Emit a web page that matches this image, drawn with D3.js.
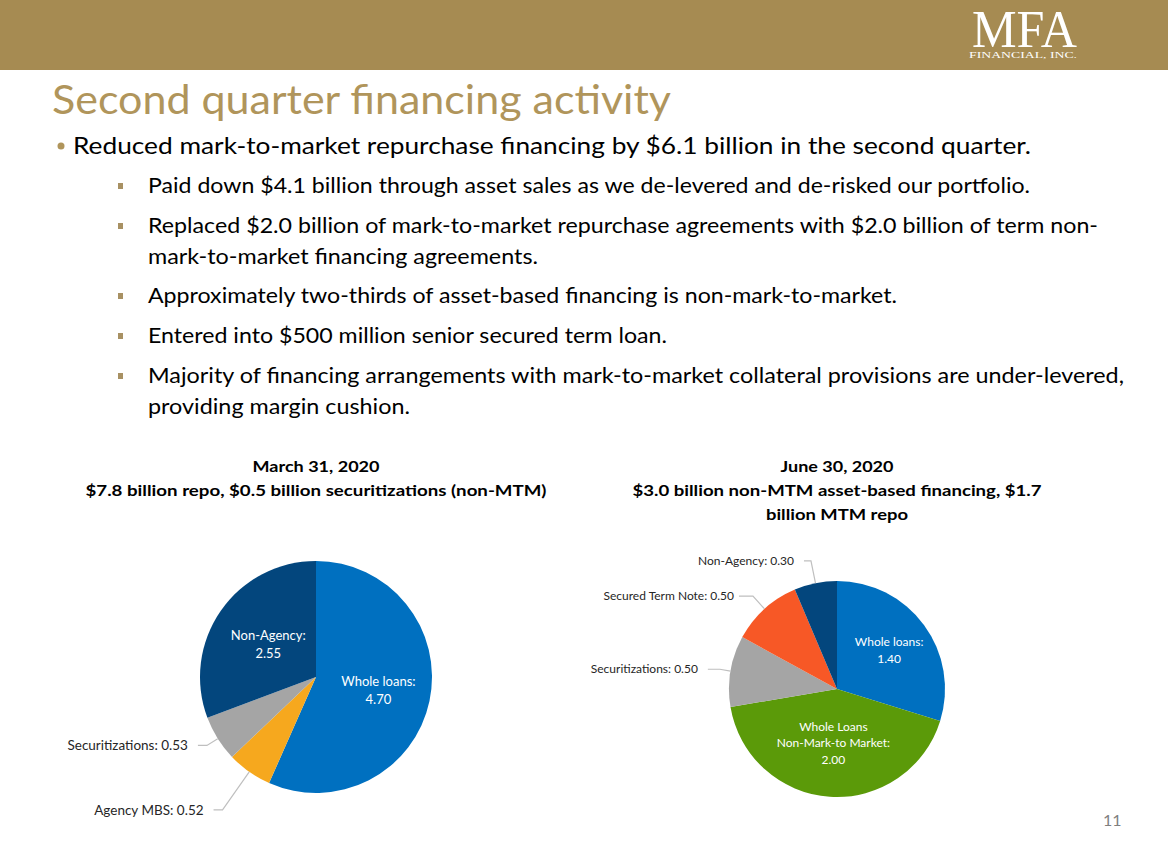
<!DOCTYPE html>
<html><head><meta charset="utf-8">
<script src="https://cdn.jsdelivr.net/npm/d3@7"></script>
<style>body{margin:0;background:#fff}svg{display:block}</style>
</head><body>
<svg id="c" width="1168" height="849"></svg>
<script>
// ---- Data ----
const pageTitle = "Second quarter financing activity";
const mainBullet = "Reduced mark-to-market repurchase financing by $6.1 billion in the second quarter.";
const subBullets = [
  ["Paid down $4.1 billion through asset sales as we de-levered and de-risked our portfolio."],
  ["Replaced $2.0 billion of mark-to-market repurchase agreements with $2.0 billion of term non-", "mark-to-market financing agreements."],
  ["Approximately two-thirds of asset-based financing is non-mark-to-market."],
  ["Entered into $500 million senior secured term loan."],
  ["Majority of financing arrangements with mark-to-market collateral provisions are under-levered,", "providing margin cushion."]
];
const marchTitle = ["March 31, 2020", "$7.8 billion repo, $0.5 billion securitizations (non-MTM)"];
const marchCategories = ["Whole loans", "Agency MBS", "Securitizations", "Non-Agency"];
const marchValues = [4.70, 0.52, 0.53, 2.55];
const juneTitle = ["June 30, 2020", "$3.0 billion non-MTM asset-based financing, $1.7", "billion MTM repo"];
const juneCategories = ["Whole loans", "Whole Loans\nNon-Mark-to Market", "Securitizations", "Secured Term Note", "Non-Agency"];
const juneValues = [1.40, 2.00, 0.50, 0.50, 0.30];
const pageNumber = "11";

// ---- Styles / layout ----
const FONT = "Lato, 'Open Sans', sans-serif";
const GOLD = "#A68B52";
const colorsMarch = ["#0070C0", "#F6A81E", "#A5A5A5", "#03467D"];
const colorsJune = ["#0070C0", "#5B9A09", "#A5A5A5", "#F75826", "#03467D"];
const svg = d3.select("#c");

function txt(x, y, s, o, parent) {
  const t = (parent || svg).append("text").attr("x", x).attr("y", y).text(s)
    .attr("font-family", o.family || FONT).attr("font-size", o.size)
    .attr("fill", o.fill || "#000").attr("font-weight", o.weight || "normal")
    .attr("text-anchor", o.anchor || "start");
  if (o.len) t.attr("textLength", o.len).attr("lengthAdjust", "spacingAndGlyphs");
  return t;
}

// header bar
svg.append("rect").attr("x", 0).attr("y", 0).attr("width", 1168).attr("height", 70).attr("fill", GOLD);
const logo = svg.append("g").attr("transform", "translate(972,47) scale(1,1.12)");
txt(0, 0, "MFA", {family: "'Liberation Serif', serif", size: 48, fill: "#fff", len: 105}, logo);
txt(969, 57.5, "FINANCIAL, INC.", {family: "'Liberation Serif', serif", size: 7.5, fill: "#fff", len: 108});

// title
txt(52, 114, pageTitle, {size: 40, fill: "#B0955B", len: 619});
// main bullet
svg.append("circle").attr("cx", 61).attr("cy", 146).attr("r", 3.5).attr("fill", "#B0955B");
txt(73, 154, mainBullet, {size: 24, fill: "#000", len: 958});

// sub-bullets
const subLens = [[882], [950, 390], [749], [519], [976, 262]];
const subBase = [193, 233, 303, 343, 383];
subBullets.forEach((lines, i) => {
  svg.append("rect").attr("x", 118).attr("y", subBase[i] - 10).attr("width", 5).attr("height", 6).attr("fill", "#A89163");
  lines.forEach((l, j) => txt(148, subBase[i] + j * 30.5, l, {size: 20.5, fill: "#000", len: subLens[i][j]}));
});

// chart titles
txt(316, 472, marchTitle[0], {size: 16, weight: "bold", anchor: "middle", len: 127});
txt(316, 496, marchTitle[1], {size: 16, weight: "bold", anchor: "middle", len: 461});
txt(837, 472, juneTitle[0], {size: 16, weight: "bold", anchor: "middle", len: 113});
txt(837, 496, juneTitle[1], {size: 16, weight: "bold", anchor: "middle", len: 409});
txt(837, 520, juneTitle[2], {size: 16, weight: "bold", anchor: "middle", len: 142});

function drawPie(cx, cy, r, cats, vals, colors, cfg) {
  const g = svg.append("g").attr("transform", `translate(${cx},${cy})`);
  const pie = d3.pie().sort(null).value(d => d)(vals);
  const arc = d3.arc().innerRadius(0).outerRadius(r);
  g.selectAll("path.s").data(pie).join("path").attr("class", "s")
    .attr("d", arc).attr("fill", (d, i) => colors[i]);
  pie.forEach((d, i) => {
    const c = cfg[i];
    const mid = (d.startAngle + d.endAngle) / 2;
    const label = cats[i].split("\n");
    const valStr = d3.format(".2f")(vals[i]);
    if (c.inside) {
      const ar = d3.arc().innerRadius(0).outerRadius(r * c.rf);
      const [x, y] = ar.centroid(d);
      const lines = label.slice(0, -1).concat([label[label.length - 1] + ":", valStr]);
      const n = lines.length;
      lines.forEach((l, k) => {
        g.append("text").attr("x", x).attr("y", y + (k - (n - 1) / 2) * c.lh + c.fs * 0.35)
          .attr("text-anchor", "middle").attr("font-family", FONT).attr("font-size", c.fs)
          .attr("fill", "#fff").text(l);
      });
    } else {
      const p0 = [Math.sin(mid) * r, -Math.cos(mid) * r];
      const p1 = [Math.sin(mid) * r * c.ef, -Math.cos(mid) * r * c.ef];
      const p2 = [p1[0] - c.h, p1[1]];
      g.append("polyline").attr("points", [p0, p1, p2].map(p => p.join(",")).join(" "))
        .attr("fill", "none").attr("stroke", "#BFBFBF").attr("stroke-width", 1.2);
      g.append("text").attr("x", p2[0] - c.gap).attr("y", p2[1] + c.fs * 0.35)
        .attr("text-anchor", "end").attr("font-family", FONT).attr("font-size", c.fs)
        .attr("fill", "#262626").text(label.join(" ") + ": " + valStr);
    }
  });
}

drawPie(316, 677, 116, marchCategories, marchValues, colorsMarch, [
  {inside: true, rf: 1.1, fs: 13, lh: 18},
  {inside: false, ef: 1.40, h: 9, gap: 10, fs: 13.5},
  {inside: false, ef: 1.11, h: 9, gap: 10, fs: 13.5},
  {inside: true, rf: 1.0, fs: 13, lh: 18}
]);
drawPie(837, 689, 108, juneCategories, juneValues, colorsJune, [
  {inside: true, rf: 1.2, fs: 12, lh: 17},
  {inside: true, rf: 1.0, fs: 12, lh: 16.5},
  {inside: false, ef: 1.10, h: 12, gap: 10, fs: 12},
  {inside: false, ef: 1.16, h: 14, gap: 5, fs: 12},
  {inside: false, ef: 1.21, h: 7, gap: 10, fs: 12}
]);

txt(1103, 826, pageNumber, {size: 16, fill: "#7F7F7F"});
</script>
</body></html>
